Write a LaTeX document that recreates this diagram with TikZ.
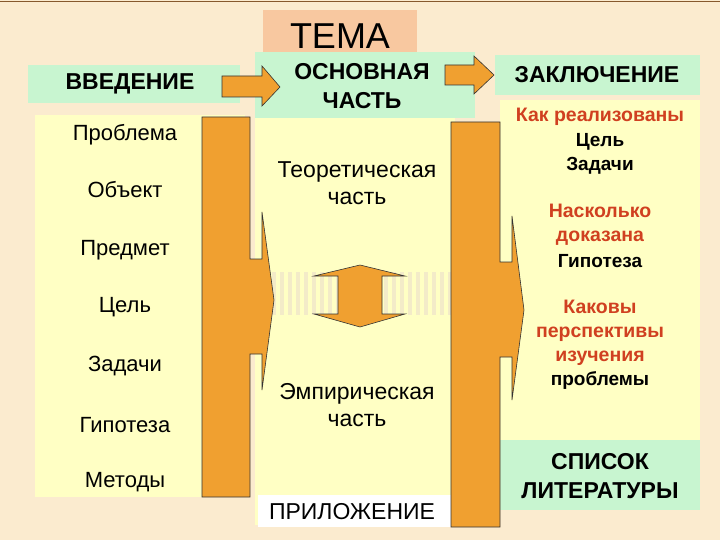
\documentclass[tikz,border=0pt]{standalone}
\usepackage{fontspec}
\setmainfont{Liberation Sans}
\begin{document}
\begin{tikzpicture}[x=1pt,y=-1pt,
  box/.style={inner sep=0pt},
  orng/.style={fill=orng,draw=black!80,line width=0.6pt},
  lbl/.style={font=\fontsize{22}{26}\selectfont},
  mid/.style={font=\fontsize{23}{27}\selectfont,align=center},
  hd/.style={font=\bfseries\fontsize{23}{29}\selectfont,align=center},
  red/.style={text=redt,font=\bfseries\fontsize{19.5}{24}\selectfont,align=center},
  blk/.style={font=\bfseries\fontsize{19}{24}\selectfont,align=center}]
\definecolor{bg}{HTML}{FBEBCF}
\definecolor{orng}{HTML}{F0A030}
\definecolor{grn}{HTML}{C8F5D0}
\definecolor{yel}{HTML}{FFFFC4}
\definecolor{pch}{HTML}{F8C8A0}
\definecolor{redt}{HTML}{D04020}
\definecolor{strp}{HTML}{F3EBC8}
\fill[bg] (0,0) rectangle (720,540);
\useasboundingbox (0,0) rectangle (720,540);
\draw[brown!70!black,line width=1pt] (0,2) -- (720,2);
% boxes
\fill[pch] (263,10) rectangle (417,58);
\node[box,font=\fontsize{36}{40}\selectfont] (tema) at (340,36) {ТЕМА};
\fill[grn] (28,65) rectangle (240,103);
\node[hd] (vved) at (130,84) {ВВЕДЕНИЕ};
\fill[grn] (255,52) rectangle (475,118);
\node[hd] (osn) at (362,86) {ОСНОВНАЯ\\ЧАСТЬ};
\fill[grn] (495,55) rectangle (700,95);
\node[hd] (zakl) at (597,75) {ЗАКЛЮЧЕНИЕ};
\fill[yel] (35,115) rectangle (245,497);
\fill[yel] (255,118) rectangle (455,525);
\fill[yel] (500,100) rectangle (700,440);
\fill[grn] (500,440) rectangle (700,510);
\fill[white] (258,495) rectangle (455,527);
% stripes band
\foreach \i in {0,...,22} \fill[strp] (272+\i*8,272) rectangle (276+\i*8,315);
% top arrows
\draw[orng] (222,76) -- (262,76) -- (262,66) -- (280,87) -- (262,106) -- (262,97) -- (222,97) -- cycle;
\draw[orng] (445,65) -- (474,65) -- (474,56) -- (494,75) -- (474,94) -- (474,85) -- (445,85) -- cycle;
% bars
\draw[orng] (202,117) -- (250,117) -- (250,259) -- (262,259) -- (262,212) -- (274,300) -- (262,390) -- (262,354) -- (250,354) -- (250,497) -- (202,497) -- cycle;
\draw[orng] (451,122) -- (500,122) -- (500,262) -- (512,262) -- (512,216) -- (524,310) -- (512,400) -- (512,357) -- (500,357) -- (500,527) -- (451,527) -- cycle;
% double arrow
\draw[orng] (360,265) -- (405,276) -- (382,276) -- (382,314) -- (405,314) -- (360,327) -- (314,314) -- (338,314) -- (338,276) -- (314,276) -- cycle;
% left texts
\foreach \t/\y in {Проблема/135,Объект/190,Предмет/250,Цель/307,Задачи/366,Гипотеза/425,Методы/482}
  \node[lbl] at (125,\y) {\t};
\node[mid] (teor) at (357,183) {Теоретическая\\часть};
\node[mid] (emp) at (357,405) {Эмпирическая\\часть};
\node[mid] (pril) at (352,512) {ПРИЛОЖЕНИЕ};
% right texts
\node[red] at (600,117) {Как реализованы};
\node[blk] at (600,154) {Цель\\Задачи};
\node[red] at (600,225) {Насколько\\доказана};
\node[blk] at (600,261) {Гипотеза};
\node[red] at (600,333) {Каковы\\перспективы\\изучения};
\node[blk] at (600,381) {проблемы};
\node[hd] (lit) at (600,476) {СПИСОК\\ЛИТЕРАТУРЫ};
\end{tikzpicture}
\end{document}
